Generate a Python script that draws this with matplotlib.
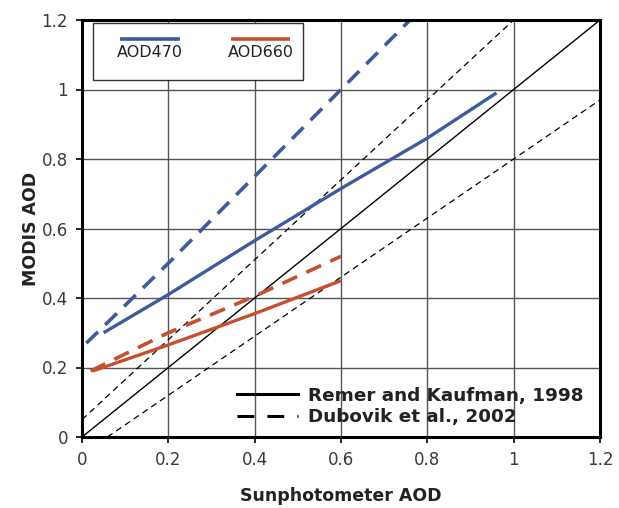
#!/usr/bin/env python3

import matplotlib
matplotlib.use("Agg")
import matplotlib.pyplot as plt
from matplotlib.lines import Line2D
from matplotlib.patches import Rectangle

IMAGE_SIZE_PX = (619, 508)
IMAGE_DPI = 100

BLUE = "#3d5c9c"
RED = "#c4502f"

# AOD470 curves
X_470_REMER = [0.05, 0.2, 0.4, 0.6, 0.8, 0.96]
Y_470_REMER = [0.30, 0.41, 0.565, 0.715, 0.86, 0.99]
X_470_DUBOVIK = [0.01, 0.2, 0.4, 0.6, 0.76]
Y_470_DUBOVIK = [0.27, 0.50, 0.75, 1.00, 1.20]

# AOD660 curves
X_660_REMER = [0.025, 0.2, 0.4, 0.6]
Y_660_REMER = [0.19, 0.265, 0.355, 0.45]
X_660_DUBOVIK = [0.02, 0.2, 0.4, 0.6]
Y_660_DUBOVIK = [0.19, 0.30, 0.405, 0.52]

# reference lines: 1:1 and +/-(0.05 + 0.15 tau) envelope
X_ONE = [0.0, 1.2]
Y_ONE = [0.0, 1.2]
X_UPPER = [0.0, 1.0]
Y_UPPER = [0.05, 1.2]
X_LOWER = [0.0588, 1.2]
Y_LOWER = [0.0, 0.97]

TICKS = [0, 0.2, 0.4, 0.6, 0.8, 1, 1.2]
TICK_LABELS = ["0", "0.2", "0.4", "0.6", "0.8", "1", "1.2"]


def main():
    plt.rcParams["font.family"] = "DejaVu Sans"
    fig = plt.figure(figsize=(IMAGE_SIZE_PX[0] / IMAGE_DPI, IMAGE_SIZE_PX[1] / IMAGE_DPI),
                     dpi=IMAGE_DPI)
    ax = fig.add_axes([82 / 619, 1 - 437 / 508, 518 / 619, 417 / 508])

    ax.set_xlim(0, 1.2)
    ax.set_ylim(0, 1.2)
    ax.set_xticks(TICKS)
    ax.set_yticks(TICKS)
    ax.set_xticklabels(TICK_LABELS)
    ax.set_yticklabels(TICK_LABELS)
    ax.tick_params(direction="out", length=4, width=1.2, labelsize=12,
                   labelcolor="#3a3a3a", pad=6)
    ax.grid(True, color="#555555", linewidth=1.0)
    ax.set_axisbelow(True)
    for sp in ax.spines.values():
        sp.set_linewidth(2.2)

    # reference lines
    ax.plot(X_ONE, Y_ONE, color="black", linewidth=1.0)
    ax.plot(X_UPPER, Y_UPPER, color="black", linewidth=0.9, dashes=(5, 3.5))
    ax.plot(X_LOWER, Y_LOWER, color="black", linewidth=0.9, dashes=(5, 3.5))

    # curves
    ax.plot(X_470_REMER, Y_470_REMER, color=BLUE, linewidth=2.4, solid_capstyle="butt")
    ax.plot(X_470_DUBOVIK, Y_470_DUBOVIK, color=BLUE, linewidth=2.6, dashes=(4.5, 2.8))
    ax.plot(X_660_REMER, Y_660_REMER, color=RED, linewidth=2.4, solid_capstyle="butt")
    ax.plot(X_660_DUBOVIK, Y_660_DUBOVIK, color=RED, linewidth=2.6, dashes=(4.5, 2.8))

    ax.set_xlabel("Sunphotometer AOD", fontsize=12.5, fontweight="bold", color="#222222",
                  labelpad=13)
    ax.set_ylabel("MODIS AOD", fontsize=12.5, fontweight="bold", color="#222222",
                  labelpad=1)

    # wavelength key, handle above the label
    ax.add_patch(Rectangle((0.021, 0.856), 0.405, 0.137, transform=ax.transAxes,
                           facecolor="white", edgecolor="#333333", linewidth=1.0,
                           zorder=5))
    for x0, col, lab in [(0.074, BLUE, "AOD470"), (0.287, RED, "AOD660")]:
        ax.plot([x0, x0 + 0.115], [0.955, 0.955], transform=ax.transAxes, color=col,
                linewidth=2.6, solid_capstyle="butt", zorder=6)
        ax.text(x0 + 0.0575, 0.922, lab, transform=ax.transAxes, ha="center",
                va="center", fontsize=11.5, color="#222222", zorder=6)

    handles = [
        Line2D([], [], color="black", linewidth=2.2, label="Remer and Kaufman, 1998"),
        Line2D([], [], color="black", linewidth=2.2, dashes=(5.5, 4.3),
               label="Dubovik et al., 2002"),
    ]
    leg = ax.legend(handles=handles, loc="lower right", bbox_to_anchor=(0.982, 0.008),
                    frameon=False, handlelength=3.3, handletextpad=0.55,
                    labelspacing=0.2, borderaxespad=0.0,
                    prop={"weight": "bold", "size": 13.2})
    for t in leg.get_texts():
        t.set_color("#222222")

    fig.savefig("out.png", dpi=IMAGE_DPI)


if __name__ == "__main__":
    main()
